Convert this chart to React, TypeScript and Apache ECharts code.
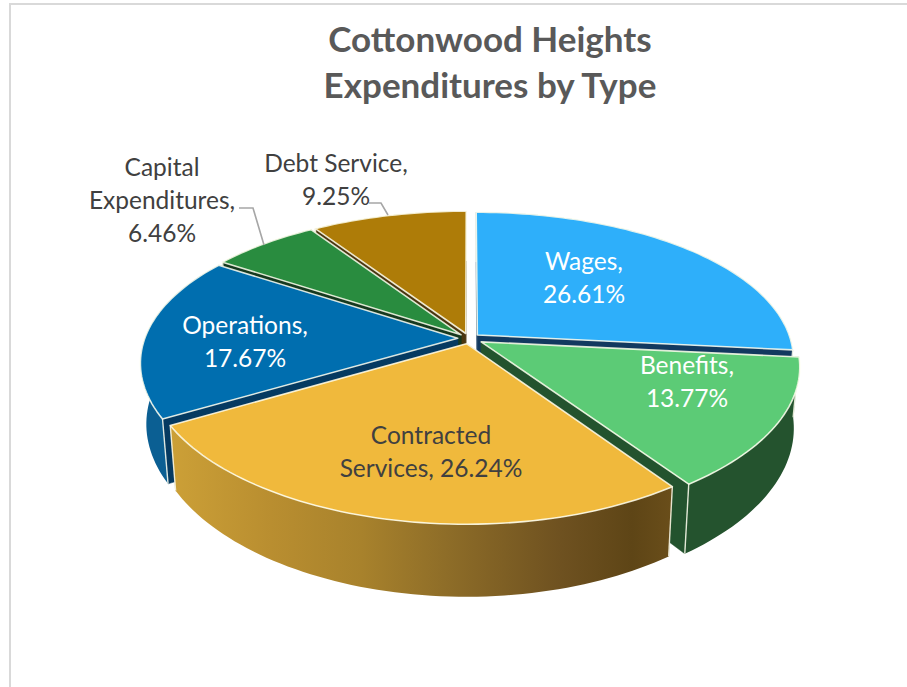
import React, { useEffect, useRef } from "react";
import * as echarts from "echarts";

const titleLines = ["Cottonwood Heights", "Expenditures by Type"];
const names = ["Wages", "Benefits", "Contracted Services", "Operations", "Capital Expenditures", "Debt Service"];
const shares = [26.61, 13.77, 26.24, 17.67, 6.46, 9.25];
const explodes = [0.036, 0.045, 0.036, 0.036, 0.036, 0.036];
const labelTexts = ["Wages,\n26.61%", "Benefits,\n13.77%", "Contracted\nServices, 26.24%", "Operations,\n17.67%", "Capital\nExpenditures,\n6.46%", "Debt Service,\n9.25%"];
const labelCenters = [[584, 277], [687, 381], [431, 451], [245, 341], [162, 199], [336, 179]];
const labelColors = ["#FFFFFF", "#FFFFFF", "#404040", "#FFFFFF", "#404040", "#404040"];
const topColors = ["#2EAFFA", "#5CCB76", "#F0B93C", "#006EAF", "#298C3F", "#AE7C08"];
const innerColors = ["#12395F", "#23532E", "#6B4E18", "#053A61", "#15391F", "#4A3610"];
const outerColors: any[] = [
  "#12395F",
  "#24532E",
  {
    type: "linear", x: 0, y: 0, x2: 1, y2: 0,
    colorStops: [
      { offset: 0, color: "#CCA037" },
      { offset: 0.2, color: "#B98E30" },
      { offset: 0.38, color: "#A8822C" },
      { offset: 0.55, color: "#8E6D28" },
      { offset: 0.78, color: "#6E5120" },
      { offset: 0.92, color: "#5E4516" },
      { offset: 1, color: "#6A4E1A" },
    ],
  },
  "#0B5F93",
  "#15391F",
  "#4A3610",
];
const leaderLines = [
  [[239, 208], [253, 208], [264, 245]],
  [[369, 203], [381, 203], [388, 215]],
];

// projection of the tilted disc
const CX = 469, CY = 338.5, AX = 313, BY = 146, PERSP_X = 0.16, PERSP_Y = 0.18, DEPTH = 59, FOOT = 0.982;
const TAU = Math.PI * 2;
const total = shares.reduce((a, b) => a + b, 0);

function project(u: number, v: number, low: boolean) {
  const wx = 1 / (1 + PERSP_X * v);
  const wy = 1 / (1 + PERSP_Y * v);
  let x = CX + u * wx * AX;
  let y = CY - v * wy * BY;
  if (low) {
    x = CX + (x - CX) * FOOT;
    y += DEPTH * wy;
  }
  return [x, y];
}

function sliceRange(i: number) {
  const before = shares.slice(0, i).reduce((a, b) => a + b, 0);
  return [(before / total) * TAU, ((before + shares[i]) / total) * TAU];
}

function arc(i: number, low: boolean) {
  const [a0, a1] = sliceRange(i);
  const mid = (a0 + a1) / 2;
  const ox = explodes[i] * Math.sin(mid), oy = explodes[i] * Math.cos(mid);
  const pts: number[][] = [];
  const n = Math.max(8, Math.ceil((a1 - a0) * 40));
  for (let k = 0; k <= n; k++) {
    const t = a0 + ((a1 - a0) * k) / n;
    pts.push(project(ox + Math.sin(t), oy + Math.cos(t), low));
  }
  return { pts, apex: project(ox, oy, low) };
}

const depthOrder = shares
  .map((_, i) => i)
  .sort((p, q) => {
    const [a0, a1] = sliceRange(p), [b0, b1] = sliceRange(q);
    return Math.cos((b0 + b1) / 2) - Math.cos((a0 + a1) / 2);
  });

const EDGE = "rgba(255,255,240,0.85)";

function renderSlice(_params: any, api: any) {
  const i = api.value(0);
  const top = arc(i, false), bottom = arc(i, true);
  const last = top.pts.length - 1;
  const wall = (a: number[], b: number[], c: number[], d: number[]) => ({
    type: "polygon",
    shape: { points: [a, b, c, d] },
    style: { fill: innerColors[i], stroke: innerColors[i], lineWidth: 0.5 },
  });
  const children: any[] = [
    wall(top.apex, top.pts[0], bottom.pts[0], bottom.apex),
    wall(top.apex, top.pts[last], bottom.pts[last], bottom.apex),
    {
      type: "polygon",
      shape: { points: [...top.pts, ...[...bottom.pts].reverse()] },
      style: { fill: outerColors[i] },
    },
    {
      type: "polyline",
      shape: { points: [top.pts[0], bottom.pts[0]] },
      style: { stroke: EDGE, lineWidth: 1.4, fill: "none" },
    },
    {
      type: "polyline",
      shape: { points: [top.pts[last], bottom.pts[last]] },
      style: { stroke: EDGE, lineWidth: 1.4, fill: "none" },
    },
    {
      type: "polygon",
      shape: { points: [top.apex, ...top.pts] },
      style: { fill: topColors[i], stroke: EDGE, lineWidth: 1.6, lineJoin: "round" },
    },
  ];
  return { type: "group", children };
}

function renderLabel(_params: any, api: any) {
  const i = api.value(0);
  return {
    type: "text",
    x: labelCenters[i][0],
    y: labelCenters[i][1],
    style: {
      text: labelTexts[i],
      fill: labelColors[i],
      font: "24.5px Lato",
      lineHeight: 33,
      align: "center",
      verticalAlign: "middle",
    },
  };
}

export default function App() {
  const ref = useRef<HTMLDivElement>(null);
  useEffect(() => {
    document.body.style.margin = "0";
    const chart = echarts.init(ref.current!, undefined, { renderer: "svg" });
    chart.setOption({
      animation: false,
      backgroundColor: "#FFFFFF",
      title: {
        text: titleLines.join("\n"),
        left: 485,
        top: 10,
        textAlign: "center",
        textStyle: { fontFamily: "Lato", fontWeight: "bold", fontSize: 35, lineHeight: 46, color: "#595959" },
      },
      graphic: [
        { type: "line", shape: { x1: 10, y1: 4, x2: 907, y2: 4 }, style: { stroke: "#D9D9D9", lineWidth: 2 } },
        { type: "line", shape: { x1: 10, y1: 3, x2: 10, y2: 687 }, style: { stroke: "#D9D9D9", lineWidth: 2 } },
        ...leaderLines.map((points) => ({
          type: "polyline",
          z: 50,
          shape: { points },
          style: { stroke: "#A6A6A6", lineWidth: 1.6, fill: "none" },
        })),
      ],
      series: [
        {
          type: "custom",
          coordinateSystem: "none",
          silent: true,
          z: 2,
          data: depthOrder.map((i) => ({ name: names[i], value: [i, shares[i]] })),
          renderItem: renderSlice,
        },
        {
          type: "custom",
          coordinateSystem: "none",
          silent: true,
          z: 3,
          data: names.map((name, i) => ({ name, value: [i, shares[i]] })),
          renderItem: renderLabel,
        },
      ],
    });
    return () => chart.dispose();
  }, []);
  return <div ref={ref} style={{ width: 907, height: 687 }} />;
}
